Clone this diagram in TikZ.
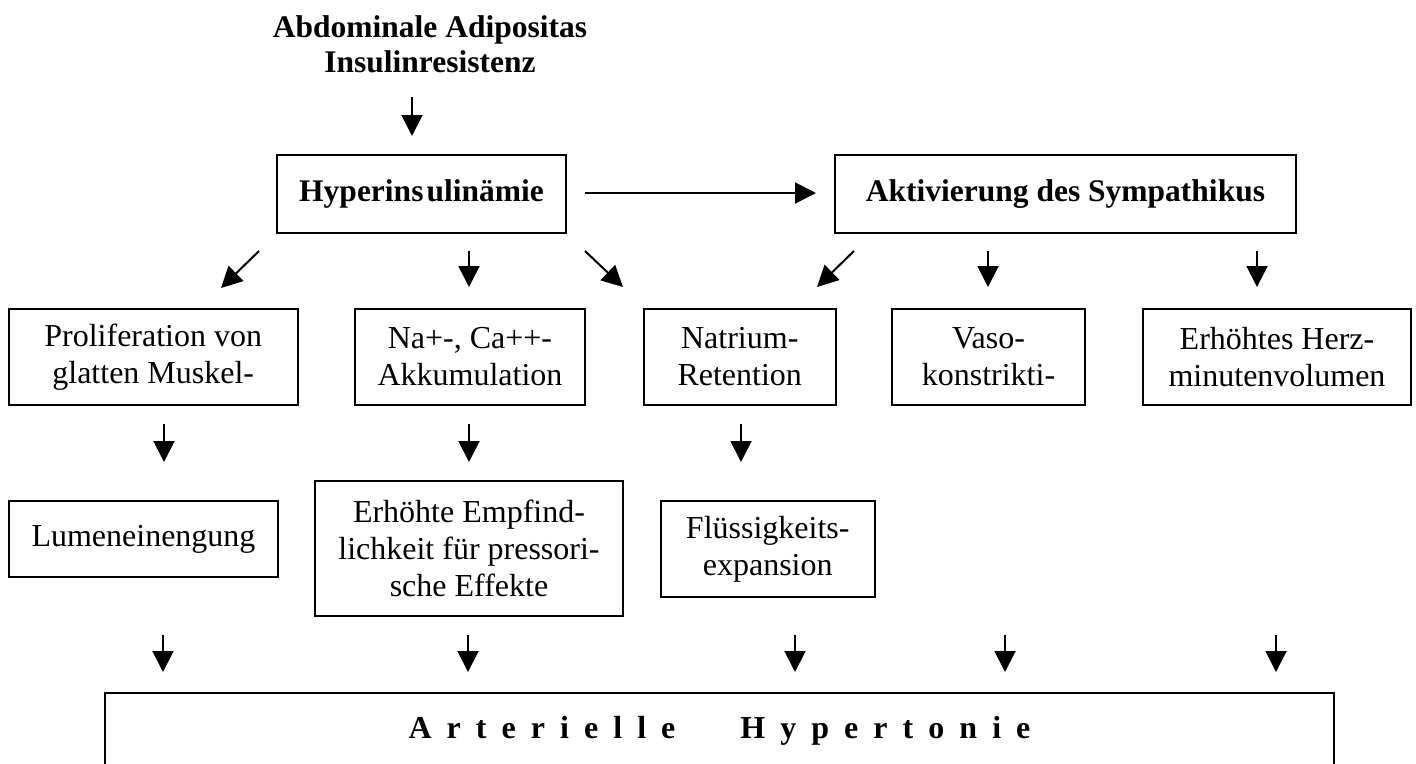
\documentclass[tikz,border=0pt]{standalone}
\usepackage{fontspec}
\setmainfont{Liberation Serif}
\newfontfamily\spacedfont[LetterSpace=47]{Liberation Serif}
\usetikzlibrary{arrows.meta}
\begin{document}
\begin{tikzpicture}[x=1pt,y=-1pt,
  box/.style={draw,line width=2pt,inner sep=0pt,align=center,font=\fontsize{32}{37}\selectfont},
  bbox/.style={box,font=\fontsize{31.5}{35}\selectfont\bfseries},
  arr/.style={line width=2pt,-{Triangle[length=21pt,width=21pt]}}]
\useasboundingbox (0,0) rectangle (1416,763);

% title
\node[align=center,inner sep=0pt,font=\fontsize{31.5}{35}\selectfont\bfseries] (title) at (430,44) {Abdominale Adipositas\\Insulinresistenz};

% top boxes
\node[bbox,minimum width=289pt,minimum height=78pt] (hyper) at (421.5,194) {Hyperins\hspace{3pt}ulinämie};
\node[bbox,minimum width=461pt,minimum height=78pt] (akt) at (1065.5,194) {Aktivierung des Sympathikus};

% second row
\node[box,minimum width=288.5pt,minimum height=96pt] (prol) at (153.25,357) {Proliferation von\\glatten Muskel-};
\node[box,minimum width=230pt,minimum height=96pt] (na) at (470,357) {Na+-, Ca++-\\Akkumulation};
\node[box,minimum width=192.5pt,minimum height=96pt] (nat) at (739.75,357) {Natrium-\\Retention};
\node[box,minimum width=193pt,minimum height=96pt] (vaso) at (988.5,357) {Vaso-\\konstrikti-};
\node[box,minimum width=268pt,minimum height=96pt] (herz) at (1277,357) {Erhöhtes Herz-\\minutenvolumen};

% third row
\node[box,minimum width=269pt,minimum height=76pt] (lumen) at (143.5,539) {Lumeneinengung};
\node[box,minimum width=308pt,minimum height=135pt] (erh) at (469,548.5) {Erhöhte Empfind-\\lichkeit für pressori-\\sche Effekte};
\node[box,minimum width=213.5pt,minimum height=96pt] (flu) at (767.75,549) {Flüssigkeits-\\expansion};

% result
\node[draw,line width=2pt,inner sep=0pt,minimum width=1229pt,minimum height=75pt,text height=22pt,text depth=7pt,
      font=\fontsize{32}{37}\selectfont\spacedfont\bfseries] (ah) at (719.5,730.5) {Arterielle\hspace{65pt}Hypertonie};

% connector end points
\coordinate (t0) at (412,97);   \coordinate (h0) at (412,136);
\coordinate (ha) at (585,193);  \coordinate (ak) at (816,193);
\coordinate (d1s) at (259,251); \coordinate (d1e) at (221,288);
\coordinate (d2s) at (469,251); \coordinate (d2e) at (469,287);
\coordinate (d3s) at (585,251); \coordinate (d3e) at (623,287);
\coordinate (d4s) at (854,251); \coordinate (d4e) at (817,287);
\coordinate (d5s) at (988,251); \coordinate (d5e) at (988,287);
\coordinate (d6s) at (1257,251);\coordinate (d6e) at (1257,287);
\coordinate (m1s) at (164,424); \coordinate (m1e) at (164,462);
\coordinate (m2s) at (469,424); \coordinate (m2e) at (469,462);
\coordinate (m3s) at (741,424); \coordinate (m3e) at (741,462);
\coordinate (b1s) at (163,635); \coordinate (b1e) at (163,672);
\coordinate (b2s) at (468,635); \coordinate (b2e) at (468,672);
\coordinate (b3s) at (795,635); \coordinate (b3e) at (795,672);
\coordinate (b4s) at (1005,635);\coordinate (b4e) at (1005,672);
\coordinate (b5s) at (1276,635);\coordinate (b5e) at (1276,672);

\draw[arr] (t0) -- (h0);
\draw[arr] (ha) -- (ak);
\foreach \i in {1,...,6} {\draw[arr] (d\i s) -- (d\i e);}
\foreach \i in {1,2,3} {\draw[arr] (m\i s) -- (m\i e);}
\foreach \i in {1,...,5} {\draw[arr] (b\i s) -- (b\i e);}
\end{tikzpicture}
\end{document}
